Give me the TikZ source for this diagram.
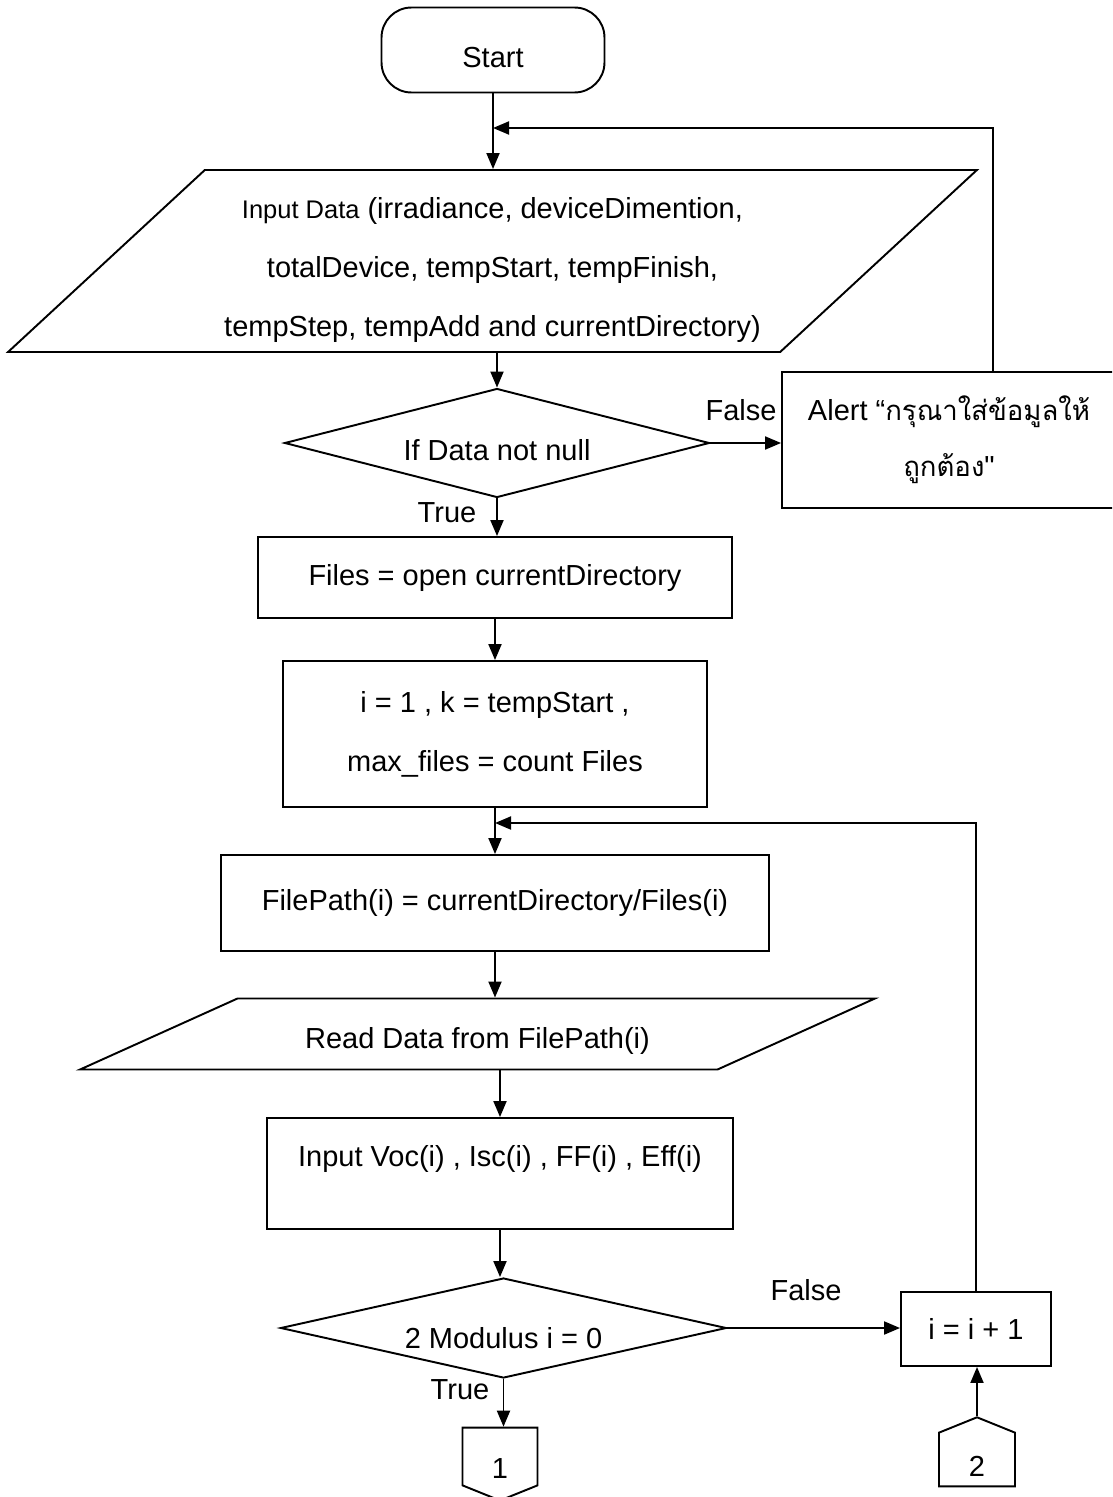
\documentclass[tikz,border=0pt]{standalone}
\usepackage{fontspec}
\setmainfont{Liberation Sans}
\newfontfamily\thaifont[Script=Thai,Scale=0.95]{Loma}
\usepackage{tikz}
\usetikzlibrary{arrows.meta,positioning,shapes.geometric,shapes.symbols}
\newcommand{\txt}{\fontsize{16.5}{20}\selectfont}
\newcommand{\txtlines}{\fontsize{16.5}{33.5}\selectfont}
\newcommand{\straightquote}{{\addfontfeature{Ligatures=TeXOff}"}}

\begin{document}
\begin{tikzpicture}[
  x=0.02cm, y=-0.02cm,
  font=\txt,
  box/.style={draw, line width=1.1pt, align=center, inner sep=0pt},
  proc/.style={box, rectangle},
  term/.style={box, rectangle, rounded corners=0.6cm},
  io/.style={box, trapezium, trapezium stretches body},
  dec/.style={box, diamond, aspect=4.4},
  conn/.style={box, signal, signal from=nowhere, signal pointer angle=136},
  arr/.style={-{Triangle[length=3.2mm, width=2.6mm]}, line width=1.1pt},
]
\useasboundingbox (0,0) rectangle (1112,1497);
\clip (0,0) rectangle (1112,1497);

% main column
\node[term, minimum width=4.46cm, minimum height=1.7cm, text height=0.7cm] (start) at (493,50) {Start};
\node[io, trapezium left angle=39.6, trapezium right angle=140.4,
      minimum width=19.38cm, minimum height=3.64cm, font=\txtlines] (inp) at (492.5,261)
  {\rule{0pt}{0.78cm}{\fontsize{14.5}{33.5}\selectfont Input Data} (irradiance, deviceDimention,\\
   totalDevice, tempStart, tempFinish,\\
   tempStep, tempAdd and currentDirectory)};
\node[dec, minimum width=8.5cm, minimum height=2.18cm, text height=0.7cm] (chk) at (497,443) {If Data not null};
\node[proc, minimum width=6.68cm, minimum height=2.72cm, font=\fontsize{16.5}{31.8}\selectfont] (alert) at (949,440)
  {Alert “{\thaifont กรุณาใส่ข้อมูลให้}\\{\thaifont ถูกต้อง}\straightquote};
\node[proc, minimum width=9.48cm, minimum height=1.62cm] (files) at (495,577.5) {Files = open currentDirectory};
\node[proc, minimum width=8.48cm, minimum height=2.92cm, font=\txtlines] (init) at (495,734)
  {i = 1 , k = tempStart ,\\max\_files = count Files};
\node[proc, minimum width=10.96cm, minimum height=1.92cm] (fpath) at (495,903) {FilePath(i) = currentDirectory/Files(i)};
\node[io, trapezium left angle=14.6, trapezium right angle=165.4,
      minimum width=15.9cm, minimum height=1.42cm, text height=0.7cm] (read) at (477.5,1034) {Read Data from FilePath(i)};
\node[proc, minimum width=9.32cm, minimum height=2.22cm, text depth=0.7cm] (voc) at (500,1173.5)
  {Input Voc(i) , Isc(i) , FF(i) , Eff(i)};
\node[dec, minimum width=8.92cm, minimum height=2.0cm, text height=0.82cm] (mod) at (503.5,1328) {2 Modulus i = 0};
\node[proc, minimum width=3.0cm, minimum height=1.48cm] (inc) at (976,1329) {i = i + 1};

% off-page connectors
\node[conn, signal to=south, minimum width=1.5cm, minimum height=1.22cm, text height=0.86cm] (c1) at (500,1456.5) {1};
\node[conn, signal to=north, minimum width=1.52cm, minimum height=1.14cm, text height=0.66cm] (c2) at (977,1459.5) {2};

% branch labels
\node (f1) at (741,410) {False};
\node (t1) at (447,513) {True};
\node (f2) at (806,1290) {False};
\node (t2) at (460,1390) {True};

% flow
\coordinate (back1) at (993,128);
\coordinate (back2) at (976,823);
\draw[arr] (start.south) -- (start.south |- inp.north);
\draw[arr] (alert.north -| back1) -- (back1) -- (start.south |- back1);
\draw[arr] (chk.north |- inp.south) -- (chk.north);
\draw[arr] (chk.east) -- (chk.east -| alert.west);
\draw[arr] (chk.south) -- (chk.south |- files.north);
\draw[arr] (files.south) -- (files.south |- init.north);
\draw[arr] (init.south) -- (init.south |- fpath.north);
\draw[arr] (inc.north) -- (inc.north |- back2) -- (init.south |- back2);
\draw[arr] (fpath.south) -- (fpath.south |- read.north);
\draw[arr] (voc.north |- read.south) -- (voc.north);
\draw[arr] (voc.south) -- (voc.south |- mod.north);
\draw[arr] (mod.east) -- (mod.east -| inc.west);
\draw[arr] (mod.south) -- (mod.south |- c1.north);
\draw[arr] (c2.north) -- (c2.north |- inc.south);
\end{tikzpicture}
\end{document}
